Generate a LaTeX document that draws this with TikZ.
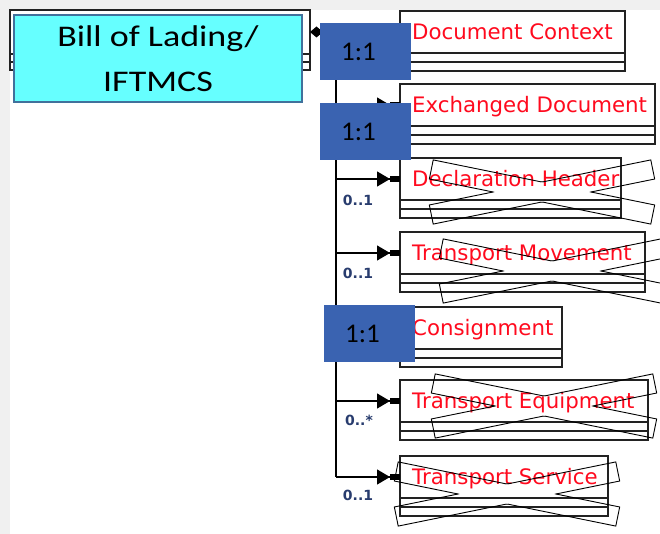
\documentclass[tikz,border=0pt]{standalone}
\usepackage{fontspec}
\usetikzlibrary{arrows.meta}
\newfontfamily\slidefont{Carlito}
\newfontfamily\slidewide[FakeStretch=1.2]{Carlito}
\newfontfamily\umlfont{DejaVu Sans}
\definecolor{bggray}{RGB}{240,240,240}
\definecolor{boxgray}{RGB}{34,34,34}
\definecolor{classred}{RGB}{255,10,30}
\definecolor{multblue}{RGB}{40,60,110}
\definecolor{ratioblue}{RGB}{58,99,177}
\definecolor{labelcyan}{RGB}{102,255,255}
\definecolor{labeledge}{RGB}{65,113,156}

\begin{document}
\begin{tikzpicture}[x=1pt, y=-1pt,
    classhead/.style ={draw=boxgray, line width=1.4pt, rectangle, inner sep=0pt, outer sep=0pt,
                       minimum height=42pt, anchor=north west},
    classline/.style ={draw=boxgray, line width=1.4pt},
    classname/.style ={anchor=base west, inner sep=0pt, text=classred,
                       font=\umlfont\fontsize{21.3pt}{24pt}\selectfont},
    link/.style ={draw=black, line width=1.3pt},
    branchtip/.style ={-{Triangle[length=13pt,width=15pt]Rectangle[length=10pt,width=6pt]}},
    mult/.style ={text=multblue, inner sep=0pt, font=\umlfont\bfseries\fontsize{14pt}{17pt}\selectfont},
    strike/.style ={draw=black, line width=0.9pt, line join=miter},
    onetoone/.style ={fill=ratioblue, inner sep=0pt, minimum width=91pt, minimum height=57pt,
                      font=\slidefont\fontsize{27pt}{30pt}\selectfont},
    slidelabel/.style ={draw=labeledge, fill=labelcyan, line width=1.8pt, inner sep=0pt,
                        minimum width=288pt, minimum height=87pt, align=center,
                        font=\slidewide\fontsize{30pt}{45pt}\selectfont}]
   \useasboundingbox (0,0) rectangle (660,534);
   \fill[bggray] (0,0) rectangle (660,534);
   \fill[white] (10,10) rectangle (660,534);

   % parent class behind the label
   \node[classhead, minimum width=300pt, minimum height=44pt] (bol) at (10,10) {};
   \draw[classline] (bol.south west) -- ++(0,16) -- ++(300,0) -- ++(0,-16);
   \draw[classline] ([yshift=-8pt]bol.south west) -- ++(300,0);

   % child classes
   \foreach \name/\ytop/\boxw/\txt in {dc/11/225/Document Context, ed/84/255/Exchanged Document,
        dh/158/221/Declaration Header, tm/232/245/Transport Movement, co/307/162/Consignment,
        te/380/248/Transport Equipment, ts/456/208/Transport Service}{
     \node[classhead, minimum width=\boxw pt] (\name) at (400,\ytop) {};
     \node[classname] at ([xshift=12pt, yshift=-7.5pt]\name.west) {\txt};
     \draw[classline] (\name.south west) -- ++(0,18) -- ++(\boxw,0) -- ++(0,-18);
     \draw[classline] ([yshift=-9pt]\name.south west) -- ++(\boxw,0);
   }

   \coordinate (trunk) at (336,32);
   \draw[link, {Diamond[length=13pt,width=11pt]}-] (bol.east) -- (dc.west);
   \draw[link] (trunk) -- (trunk |- ts.west);
   \foreach \name in {ed,dh,tm,co,te,ts}
     \draw[link, branchtip] (trunk |- \name.west) -- (\name.west);

   \node[mult] (mdh) at (358,200) {0..1};
   \node[mult] (mtm) at (358,273) {0..1};
   \node[mult] (mte) at (359,420) {0..*};
   \node[mult] (mts) at (358,495) {0..1};

   % crossed out classes
   \foreach \cx/\cy in {542/192, 552/271, 544/406, 507/494}{
     \begin{scope}[shift={(\cx,\cy)}, rotate=-11.5]
       \coordinate (a1) at (-113,-9.75);
       \coordinate (a2) at (113,-9.75);
       \coordinate (a3) at (113,9.75);
       \coordinate (a4) at (-113,9.75);
     \end{scope}
     \begin{scope}[shift={(\cx,\cy)}, rotate=11.5]
       \coordinate (b1) at (-113,-9.75);
       \coordinate (b2) at (113,-9.75);
       \coordinate (b3) at (113,9.75);
       \coordinate (b4) at (-113,9.75);
     \end{scope}
     \begin{scope}[even odd rule]
       \clip (0,0) rectangle (660,534) (b1) -- (b2) -- (b3) -- (b4) -- cycle;
       \draw[strike] (a1) -- (a2) -- (a3) -- (a4) -- cycle;
     \end{scope}
     \begin{scope}[even odd rule]
       \clip (0,0) rectangle (660,534) (a1) -- (a2) -- (a3) -- (a4) -- cycle;
       \draw[strike] (b1) -- (b2) -- (b3) -- (b4) -- cycle;
     \end{scope}
   }

   \node[onetoone] (r1) at (365.5,51.5) {1:1\kern14pt};
   \node[onetoone] (r2) at (365.5,132) {1:1\kern14pt};
   \node[onetoone] (r3) at (369.5,333.5) {1:1\kern14pt};
   \node[slidelabel] (bollabel) at (158,58.5) {Bill of Lading/\\IFTMCS};
 \end{tikzpicture}
\end{document}
